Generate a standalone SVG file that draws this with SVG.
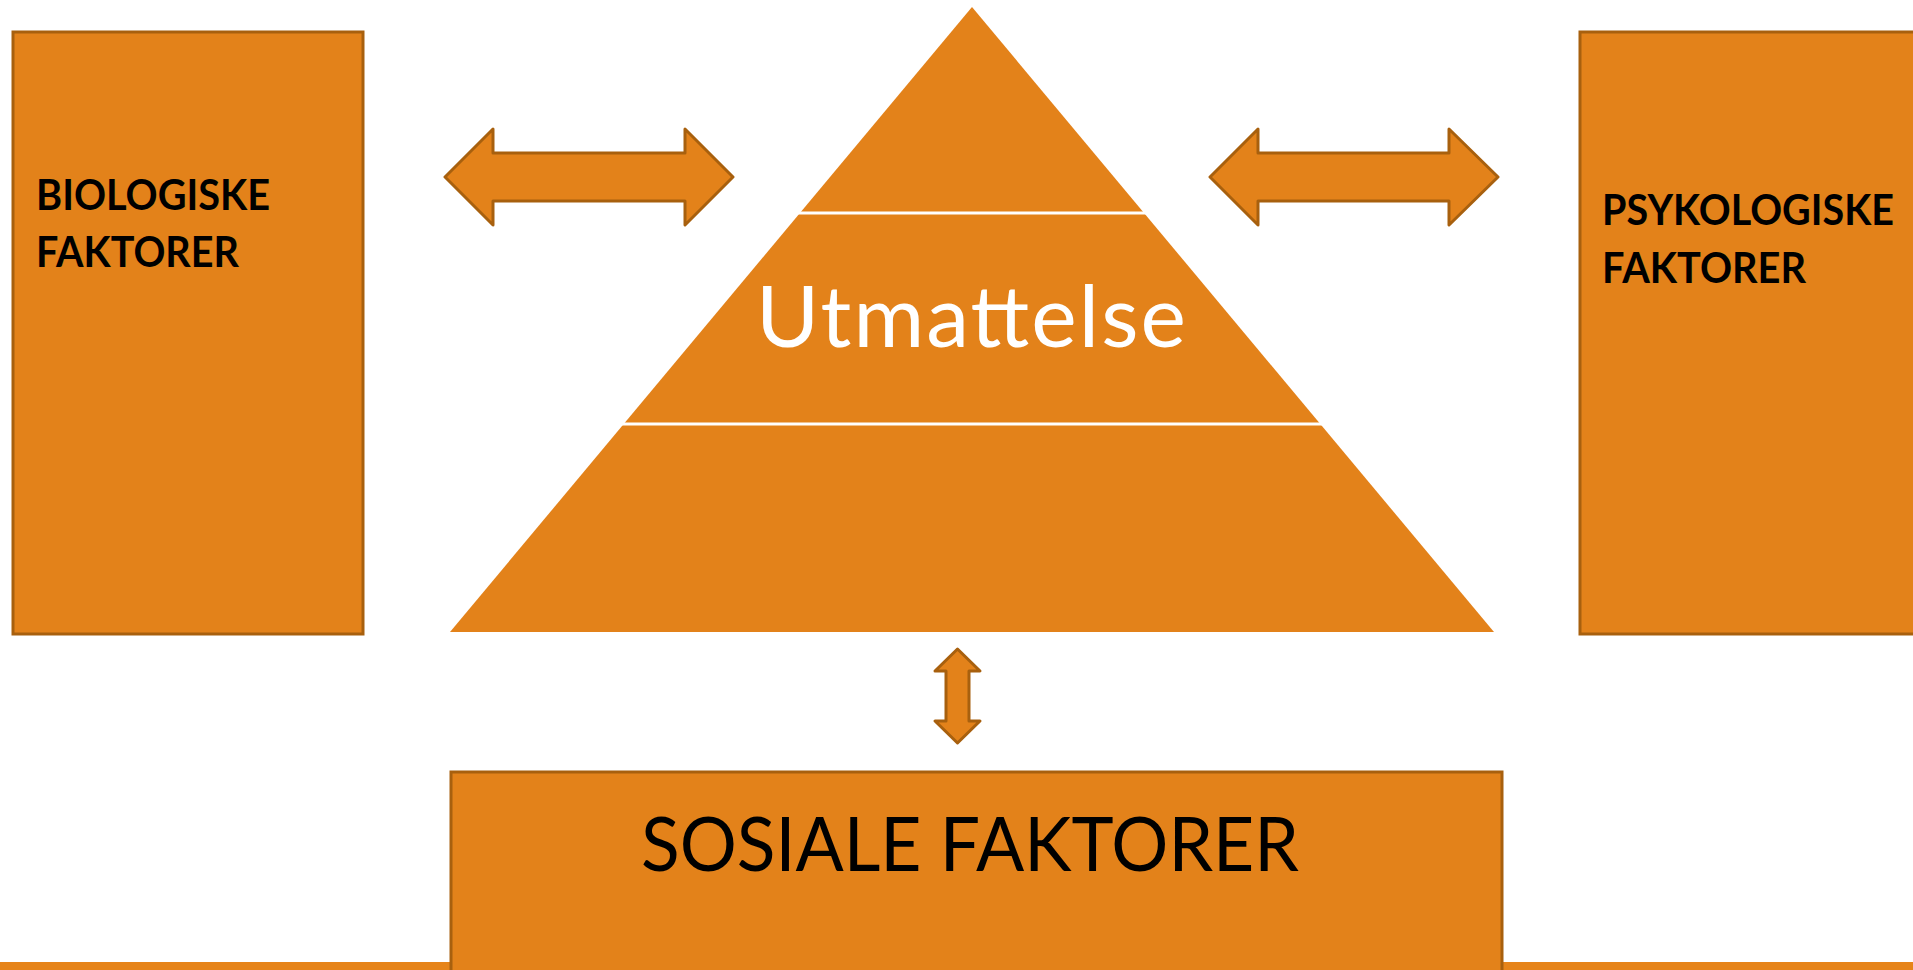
<svg xmlns="http://www.w3.org/2000/svg" width="1913" height="970" viewBox="0 0 1913 970">
<style>
.box{fill:#E3821A;stroke:#A8600E;stroke-width:3}
.arr{fill:#E3821A;stroke:#A8600E;stroke-width:3;stroke-linejoin:round}
.tri{fill:#E3821A}
.sep{stroke:#FFFFFF;stroke-width:3}
.bold{font-family:Lato,"Liberation Sans",sans-serif;font-weight:bold;font-size:42px;fill:#000}
.big{font-family:Lato,"Liberation Sans",sans-serif;font-size:76px;fill:#000}
.white{font-family:Lato,"Liberation Sans",sans-serif;font-size:86px;fill:#FFFFFF}
</style>
<rect x="0" y="0" width="1913" height="970" fill="#FFFFFF"/>
<rect x="0" y="962" width="1913" height="8" fill="#E6841A"/>
<g id="biologiske">
<rect class="box" x="13" y="32" width="350" height="602"/>
<text class="bold" x="36" y="210" textLength="234" lengthAdjust="spacingAndGlyphs">BIOLOGISKE</text>
<text class="bold" x="36" y="267" textLength="203" lengthAdjust="spacingAndGlyphs">FAKTORER</text>
</g>
<g id="psykologiske">
<rect class="box" x="1580" y="32" width="360" height="602"/>
<text class="bold" x="1602" y="225" textLength="292" lengthAdjust="spacingAndGlyphs">PSYKOLOGISKE</text>
<text class="bold" x="1602" y="283" textLength="204" lengthAdjust="spacingAndGlyphs">FAKTORER</text>
</g>
<g id="utmattelse">
<polygon class="tri" points="972,7 1494,632 450,632"/>
<line class="sep" x1="798" y1="213" x2="1146" y2="213"/>
<line class="sep" x1="622" y1="424" x2="1322" y2="424"/>
<text class="white" x="756" y="347" textLength="430" lengthAdjust="spacing">Utmattelse</text>
</g>
<g id="sosiale">
<rect class="box" x="451" y="772" width="1051" height="220"/>
<text class="big" x="641" y="871" textLength="658" lengthAdjust="spacingAndGlyphs">SOSIALE FAKTORER</text>
</g>
<g id="connectors">
<polygon class="arr" points="445,177 493,129 493,153 685,153 685,129 733,177 685,225 685,201 493,201 493,225"/>
<polygon class="arr" points="1210,177 1258,129 1258,153 1449,153 1449,129 1498,177 1449,225 1449,201 1258,201 1258,225"/>
<polygon class="arr" points="957.5,649 980,671 969,671 969,721 980,721 957.5,743 935,721 946,721 946,671 935,671"/>
</g>
</svg>
